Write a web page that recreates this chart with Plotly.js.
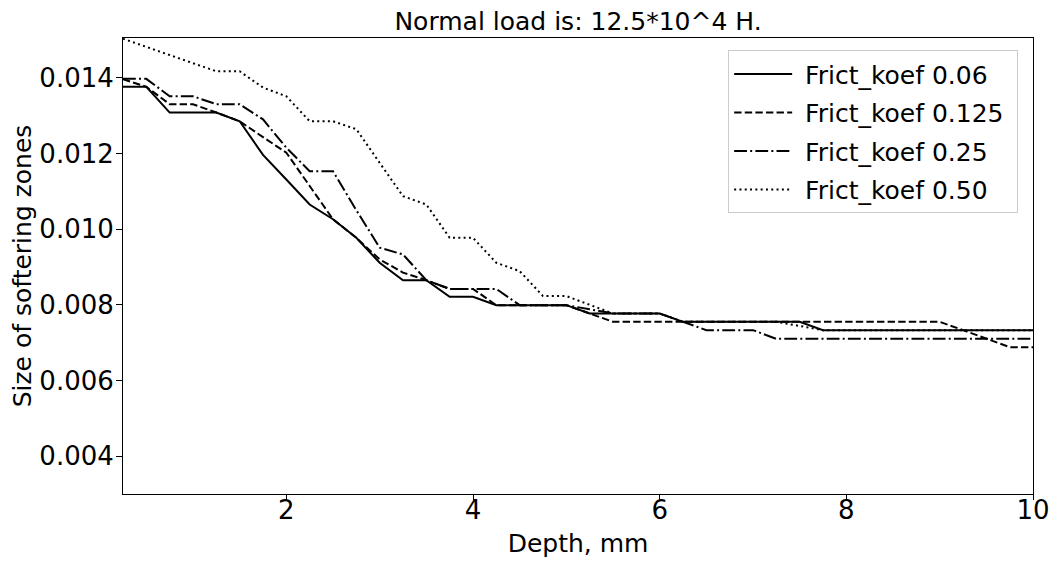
<!DOCTYPE html>
<html>
<head>
<meta charset="utf-8">
<script src="https://cdn.plot.ly/plotly-3.0.1.min.js"></script>
<style>html,body{margin:0;padding:0;background:#fff;}#chart{width:1052px;height:561px;}</style>
</head>
<body>
<div id="chart"></div>
<script>
const depth = [0.25,0.5,0.75,1,1.25,1.5,1.75,2,2.25,2.5,2.75,3,3.25,3.5,3.75,4,4.25,4.5,4.75,5,5.25,5.5,5.75,6,6.25,6.5,6.75,7,7.25,7.5,7.75,8,8.25,8.5,8.75,9,9.25,9.5,9.75,10];

const frict006 = [0.01376,0.01376,0.01308,0.01308,0.01308,0.01285,0.01196,0.01131,0.01065,0.01026,0.00977,0.00911,0.00865,0.00865,0.00821,0.00821,0.00799,0.00799,0.00799,0.00799,0.00777,0.00777,0.00777,0.00777,0.00755,0.00755,0.00755,0.00755,0.00755,0.00755,0.00733,0.00733,0.00733,0.00733,0.00733,0.00733,0.00733,0.00733,0.00733,0.00733];

const frict0125 = [0.01396,0.01376,0.0133,0.0133,0.01308,0.01285,0.01243,0.01202,0.01114,0.01026,0.00977,0.0092,0.00885,0.00865,0.00842,0.00842,0.00799,0.00799,0.00799,0.00799,0.00777,0.00755,0.00755,0.00755,0.00755,0.00755,0.00755,0.00755,0.00755,0.00755,0.00755,0.00755,0.00755,0.00755,0.00755,0.00755,0.00733,0.0071,0.00688,0.00688];

const frict025 = [0.01397,0.01397,0.01351,0.01351,0.0133,0.0133,0.0129,0.01215,0.01153,0.01153,0.0105,0.00951,0.00933,0.00865,0.00842,0.00842,0.00842,0.00799,0.00799,0.00799,0.00788,0.00777,0.00777,0.00777,0.00755,0.00733,0.00733,0.00733,0.0071,0.0071,0.0071,0.0071,0.0071,0.0071,0.0071,0.0071,0.0071,0.0071,0.0071,0.0071];

const frict050 = [0.01503,0.01482,0.0146,0.01439,0.01417,0.01417,0.01374,0.01351,0.01285,0.01285,0.01264,0.01175,0.01087,0.01065,0.00977,0.00977,0.00911,0.00889,0.00823,0.00823,0.00799,0.00777,0.00777,0.00777,0.00755,0.00755,0.00755,0.00755,0.00755,0.00744,0.00733,0.00733,0.00733,0.00733,0.00733,0.00733,0.00733,0.00733,0.00733,0.00733];

const seriesNames = ['Frict_koef 0.06','Frict_koef 0.125','Frict_koef 0.25','Frict_koef 0.50'];
const seriesValues = [frict006, frict0125, frict025, frict050];
const dashes = ['solid','7.4px,3.2px','12.8px,3.2px,2px,3.2px','2px,3.3px'];

const xTicks = [2,4,6,8,10];
const yTicks = [0.004,0.006,0.008,0.010,0.012,0.014];

const FONT = 'DejaVu Sans, Verdana, sans-serif';
const FS = 25;
const TFS = 26;

const traces = seriesValues.map((vals, i) => ({
  x: depth,
  y: vals,
  type: 'scatter',
  mode: 'lines',
  name: '\u00a0' + seriesNames[i] + '\u00a0',
  legendgroup: 'g' + i,
  line: {color: '#000000', width: 2, dash: dashes[i]},
  hoverinfo: 'x+y+name'
}));

const layout = {
  width: 1052,
  height: 561,
  margin: {l: 123, r: 19, t: 38, b: 67, pad: 0},
  paper_bgcolor: '#ffffff',
  plot_bgcolor: '#ffffff',
  font: {family: FONT, size: FS, color: '#000000'},
  title: {
    text: 'Normal load is: 12.5*10^4 H.',
    font: {family: FONT, size: FS, color: '#000000'},
    x: 0.5, xref: 'paper', xanchor: 'center',
    y: 1, yref: 'paper', yanchor: 'bottom', pad: {b: 8}
  },
  xaxis: {
    range: [0.25, 10],
    tickvals: xTicks,
    ticktext: xTicks.map(String),
    ticks: 'outside', ticklen: 5, tickwidth: 1, tickcolor: '#000',
    ticklabelstandoff: -12,
    showline: true, linecolor: '#000', linewidth: 1, mirror: true,
    showgrid: false, zeroline: false,
    tickfont: {family: FONT, size: TFS, color: '#000'},
    title: {text: 'Depth, mm', font: {family: FONT, size: FS, color: '#000'}, standoff: 10}
  },
  yaxis: {
    range: [0.003, 0.01505],
    tickvals: yTicks,
    tickformat: '.3f',
    ticks: 'outside', ticklen: 6, tickwidth: 1, tickcolor: '#000',
    ticklabelstandoff: -3,
    showline: true, linecolor: '#000', linewidth: 1, mirror: true,
    showgrid: false, zeroline: false,
    tickfont: {family: FONT, size: TFS, color: '#000'},
    title: {text: 'Size of softering zones', font: {family: FONT, size: FS, color: '#000'}, standoff: 0}
  },
  showlegend: true,
  legend: {
    x: 0.665, y: 0.973, xanchor: 'left', yanchor: 'top',
    xref: 'paper', yref: 'paper',
    bgcolor: 'rgba(255,255,255,0.8)',
    bordercolor: '#cccccc', borderwidth: 1,
    font: {family: FONT, size: FS, color: '#000'},
    traceorder: 'grouped',
    tracegroupgap: 3,
    itemwidth: 58
  }
};

Plotly.newPlot('chart', traces, layout, {displayModeBar: false, responsive: false});
</script>
</body>
</html>
